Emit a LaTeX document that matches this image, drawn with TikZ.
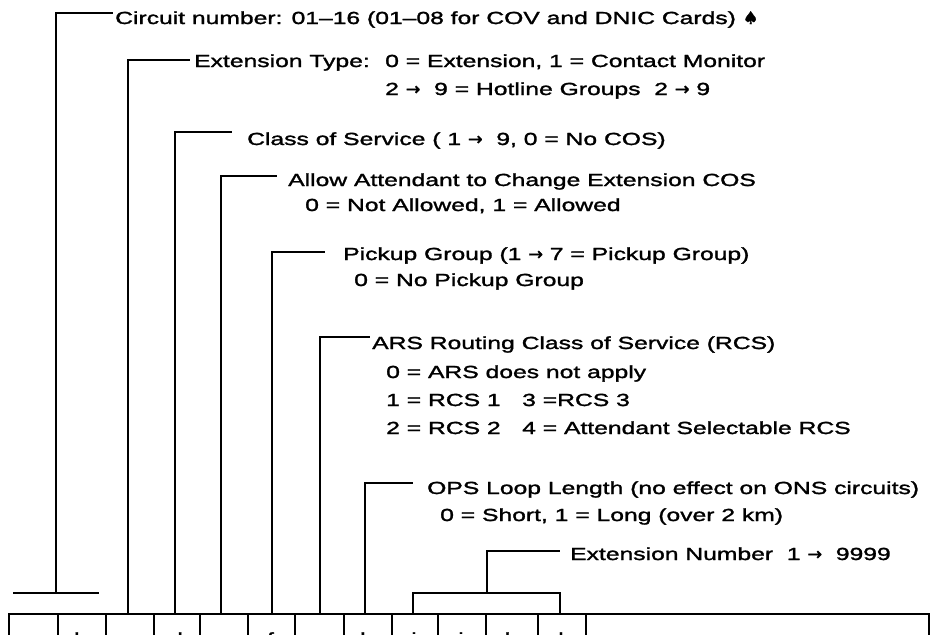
\documentclass[tikz,border=0pt]{standalone}
\usepackage{fontspec}
\setmainfont[FakeStretch=1.41,FakeBold=1.6]{Liberation Sans}
\newfontfamily\symfont[FakeBold=1.6]{DejaVu Sans}
\newcommand{\ra}{{\symfont →}}
\begin{document}
\begin{tikzpicture}[x=1pt,y=-1pt,
  conn/.style={line width=2.6pt},
  cellbox/.style={draw,line width=2.4pt,inner sep=0pt},
  lbl/.style={anchor=base west,inner sep=0pt,font=\fontsize{17.5}{28}\selectfont},
  letter/.style={anchor=base,inner sep=0pt,font=\fontsize{17.5}{28}\selectfont}]
\useasboundingbox (0,0) rectangle (930,635);
\clip (0,0) rectangle (930,635);

% texts
\node[lbl] (t1) at (115,24) {Circuit number: 01–16 (01–08 for COV and DNIC Cards) {\symfont ♠}};
\node[lbl] (t2) at (194,67) {Extension Type:};
\node[lbl] (t2b) at (385,67) {0 = Extension, 1 = Contact Monitor};
\node[lbl] (t2c) at (385,95) {2 \ra\ \ 9 = Hotline Groups\ \ 2 \ra\ 9};
\node[lbl] (t3) at (247,145) {Class of Service ( 1 \ra\ \ 9, 0 = No COS)};
\node[lbl] (t4) at (288,186) {Allow Attendant to Change Extension COS};
\node[lbl] (t4b) at (305,211) {0 = Not Allowed, 1 = Allowed};
\node[lbl] (t5) at (343,260) {Pickup Group (1 \ra\ 7 = Pickup Group)};
\node[lbl] (t5b) at (354,286) {0 = No Pickup Group};
\node[lbl] (t6) at (372,349) {ARS Routing Class of Service (RCS)};
\node[lbl] (t6a) at (386,378) {0 = ARS does not apply};
\node[lbl] (t6b) at (386,406) {1 = RCS 1};
\node[lbl] (t6c) at (522,406) {3 =RCS 3};
\node[lbl] (t6d) at (386,434) {2 = RCS 2};
\node[lbl] (t6e) at (522,434) {4 = Attendant Selectable RCS};
\node[lbl] (t7) at (427,494) {OPS Loop Length (no effect on ONS circuits)};
\node[lbl] (t7b) at (440,521) {0 = Short, 1 = Long (over 2 km)};
\node[lbl] (t8) at (570,560) {Extension Number\ \ 1 \ra\ \ 9999};

% cells
\foreach \l/\r/\n in {8/57/a,57/105/b,105/153/c,153/199/d,199/247/e,247/294/f,294/343/g,343/391/h,391/437/i,437/485/j,485/537/k,537/585/l}{
  \node[cellbox,minimum width={(\r-\l)*1pt},minimum height=60pt,anchor=north west] (cell\n) at (\l,613) {};
  \node[letter] (let\n) at ({(\l+\r)/2},645) {\n};
}
\node[cellbox,minimum width=343pt,minimum height=60pt,anchor=north west] (cellm) at (585,613) {};

% connector points
\coordinate (p1) at (113,13);   \coordinate (q1) at (56,593);
\coordinate (tl) at (13,593);   \coordinate (tr) at (99,593);
\coordinate (p2) at (190,60);   \coordinate (q2) at (128,613);
\coordinate (p3) at (232,132);  \coordinate (q3) at (175,613);
\coordinate (p4) at (277,176);  \coordinate (q4) at (221,613);
\coordinate (p5) at (325,252);  \coordinate (q5) at (272,613);
\coordinate (p6) at (370,337);  \coordinate (q6) at (320,613);
\coordinate (p7) at (413,483);  \coordinate (q7) at (365,613);
\coordinate (p8) at (560,551);  \coordinate (q8) at (487,593);
\coordinate (bl) at (413,613);  \coordinate (br) at (560,613);

\draw[conn] (q1) |- (p1);
\draw[conn] (tl) -- (tr);
\draw[conn] (q2) |- (p2);
\draw[conn] (q3) |- (p3);
\draw[conn] (q4) |- (p4);
\draw[conn] (q5) |- (p5);
\draw[conn] (q6) |- (p6);
\draw[conn] (q7) |- (p7);
\draw[conn] (q8) |- (p8);
\draw[conn] (bl) |- (q8) -| (br);
\end{tikzpicture}
\end{document}
